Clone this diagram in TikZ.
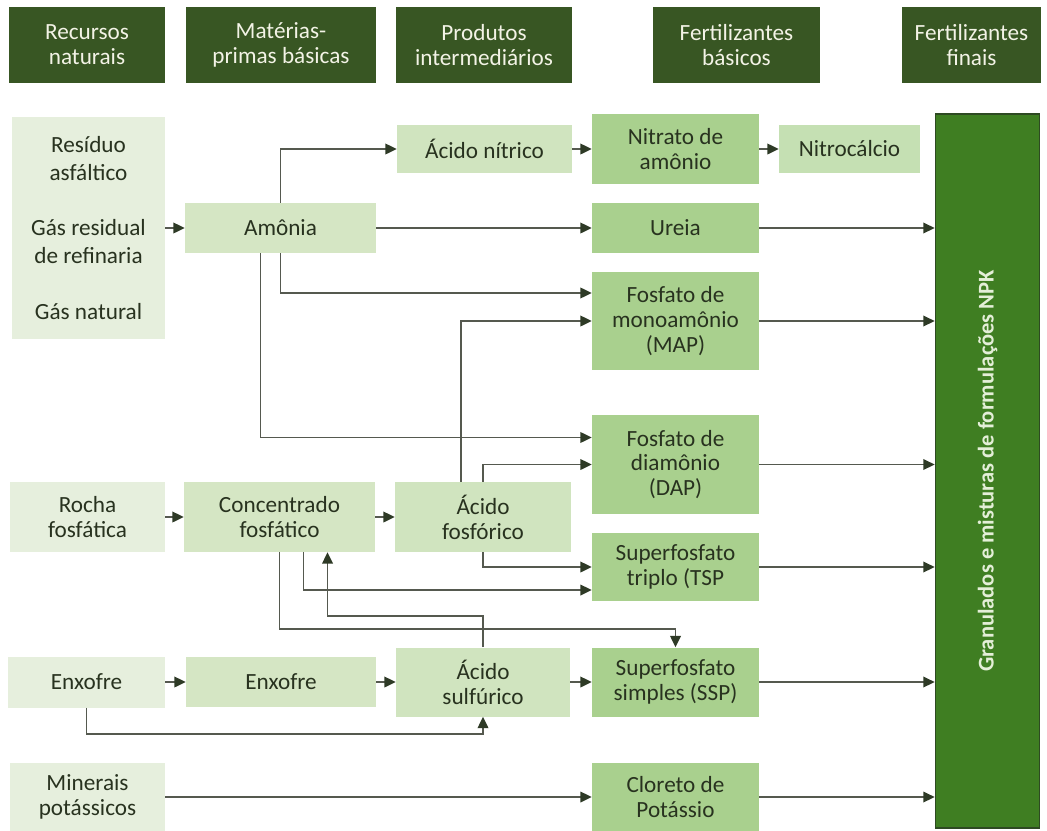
\documentclass[tikz,border=0pt]{standalone}
\usepackage{fontspec}
\setmainfont{Carlito}
\usepackage{tikz}
\usetikzlibrary{arrows.meta}

\definecolor{verdeescuro}{HTML}{385623}
\definecolor{textoclaro}{HTML}{F3F3E6}
\definecolor{verderecurso}{HTML}{E6EFDD}
\definecolor{verdemateria}{HTML}{D5E6C4}
\definecolor{verdeinter}{HTML}{D0E4BF}
\definecolor{verdebasico}{HTML}{A9D08E}
\definecolor{verdeclaro}{HTML}{C5E0B3}
\definecolor{verdefinal}{HTML}{3F7E22}
\definecolor{bordafinal}{HTML}{2E4A22}
\definecolor{textofinal}{HTML}{E4EFD8}
\definecolor{textoescuro}{HTML}{28321F}
\definecolor{linhaseta}{HTML}{55594F}
\definecolor{pontaseta}{HTML}{2E3A26}

\begin{document}
\begin{tikzpicture}[
        x=0.025cm, y=-0.025cm,
        % Estilo base das caixas
        caixa/.style={
                rectangle,
                text centered,
                align=center,
                inner sep=2pt,
                font=\fontsize{16.5}{17.7}\selectfont,
                text=textoescuro
            },
        % Cabeçalhos das colunas
        cabecalho/.style={
                caixa,
                fill=verdeescuro,
                text=textoclaro,
                minimum height=1.9cm
            },
        % Caixas por coluna
        recurso/.style={caixa, fill=verderecurso},
        materia/.style={caixa, fill=verdemateria},
        intermed/.style={caixa, fill=verdeinter},
        basico/.style={caixa, fill=verdebasico, minimum width=4.175cm},
        % Caixa final
        final/.style={
                rectangle,
                fill=verdefinal,
                draw=bordafinal,
                line width=1.2pt
            },
        % Setas
        seta/.style={
                -{Triangle[length=8pt,width=7.5pt,color=pontaseta]},
                line width=1.2pt,
                draw=linhaseta
            }
    ]
    \useasboundingbox (0,0) rectangle (1047,830);

    % Cabeçalhos
    \node[cabecalho, minimum width=3.9cm] (hrecursos) at (87,45) {Recursos\\naturais};
    \node[cabecalho, minimum width=4.75cm] (hmaterias) at (281,45) {Matérias-\\primas básicas};
    \node[cabecalho, minimum width=4.4cm] (hprodutos) at (484,45) {Produtos\\intermediários};
    \node[cabecalho, minimum width=4.175cm] (hbasicos) at (736.5,45) {Fertilizantes\\básicos};
    \node[cabecalho, minimum width=3.475cm] (hfinais) at (971.5,45) {Fertilizantes\\finais};

    % Recursos naturais
    \node[recurso, minimum width=3.825cm, minimum height=5.55cm,
        font=\fontsize{16.5}{19.9}\selectfont] (gases) at (88.5,228)
        {Resíduo\\asfáltico\\[19.9pt]Gás residual\\de refinaria\\[19.9pt]Gás natural};
    \node[recurso, minimum width=3.875cm, minimum height=1.75cm] (rocha) at (87.5,517) {Rocha\\fosfática};
    \node[recurso, minimum width=3.925cm, minimum height=1.275cm] (enxofre) at (86.5,682) {Enxofre};
    \node[recurso, minimum width=3.875cm, minimum height=1.7cm] (minerais) at (87.5,797) {Minerais\\potássicos};

    % Matérias-primas básicas
    \node[materia, minimum width=4.775cm, minimum height=1.25cm] (amonia) at (280.5,228) {Amônia};
    \node[materia, minimum width=4.775cm, minimum height=1.75cm] (concentrado) at (279.5,517) {Concentrado\\fosfático};
    \node[materia, minimum width=4.75cm, minimum height=1.25cm] (enxofremp) at (281,682) {Enxofre};

    % Produtos intermediários
    \node[intermed, minimum width=4.375cm, minimum height=1.2cm] (acnitrico) at (484.5,149) {Ácido nítrico};
    \node[intermed, minimum width=4.4cm, minimum height=1.75cm] (acfosforico) at (483,517) {Ácido\\fosfórico};
    \node[intermed, minimum width=4.35cm, minimum height=1.725cm] (acsulfurico) at (483,682) {Ácido\\sulfúrico};

    % Fertilizantes básicos
    \node[basico, minimum height=1.725cm] (nitrato) at (675.5,149) {Nitrato de\\amônio};
    \node[caixa, fill=verdeclaro, minimum width=3.525cm, minimum height=1.2cm] (nitrocalcio) at (849.5,149) {Nitrocálcio};
    \node[basico, minimum height=1.25cm] (ureia) at (675.5,228) {Ureia};
    \node[basico, minimum height=2.45cm] (map) at (675.5,321) {Fosfato de\\monoamônio\\(MAP)};
    \node[basico, minimum height=2.475cm] (dap) at (675.5,464.5) {Fosfato de\\diamônio\\(DAP)};
    \node[basico, minimum height=1.7cm] (tsp) at (675.5,567) {Superfosfato\\triplo (TSP};
    \node[basico, minimum height=1.725cm] (ssp) at (675.5,682) {Superfosfato\\simples (SSP)};
    \node[basico, minimum height=1.7cm] (cloreto) at (675.5,797) {Cloreto de\\Potássio};

    % Fertilizantes finais
    \node[final, minimum width=2.6cm, minimum height=17.85cm] (npk) at (987.5,471) {};
    \node[rotate=90, font=\fontsize{16}{17.7}\selectfont\bfseries, text=textofinal] (npktexto) at (npk)
        {Granulados e misturas de formulações NPK};

    % Setas da amônia
    \draw[seta] (gases.east) -- (amonia.west);
    \draw[seta] (amonia.north) |- (acnitrico.west);
    \draw[seta] (acnitrico.east) -- (nitrato.west);
    \draw[seta] (nitrato.east) -- (nitrocalcio.west);
    \draw[seta] (amonia.east) -- (ureia.west);
    \draw[seta] (amonia.south) |- ([yshift=0.7cm]map.west);
    \draw[seta] ([xshift=-0.5cm]amonia.south) |- ([yshift=0.675cm]dap.west);

    % Setas do fósforo
    \draw[seta] (rocha.east) -- (concentrado.west);
    \draw[seta] (concentrado.east) -- (acfosforico.west);
    \draw[seta] ([xshift=-0.55cm]acfosforico.north) |- (map.west);
    \draw[seta] (acfosforico.north) |- (dap.west);
    \draw[seta] (acfosforico.south) |- (tsp.west);
    \draw[seta] ([xshift=0.6cm]concentrado.south) |- ([yshift=-0.575cm]tsp.west);
    \draw[seta] (concentrado.south) |- ([yshift=0.45cm]ssp.north) -- (ssp.north);

    % Setas do enxofre
    \draw[seta] (enxofre.east) -- (enxofremp.west);
    \draw[seta] (enxofremp.east) -- (acsulfurico.west);
    \draw[seta] (acsulfurico.east) -- (ssp.west);
    \draw[seta] (acsulfurico.north) |- ([xshift=1.2cm,yshift=-1.6cm]concentrado.south)
        -- ([xshift=1.2cm]concentrado.south);
    \draw[seta] (enxofre.south) |- ([yshift=-0.425cm]acsulfurico.south) -- (acsulfurico.south);

    % Potássio
    \draw[seta] (minerais.east) -- (cloreto.west);

    % Para os fertilizantes finais
    \foreach \no in {ureia, map, dap, tsp, ssp, cloreto}
        \draw[seta] (\no.east) -- (\no.east -| npk.west);

\end{tikzpicture}
\end{document}
